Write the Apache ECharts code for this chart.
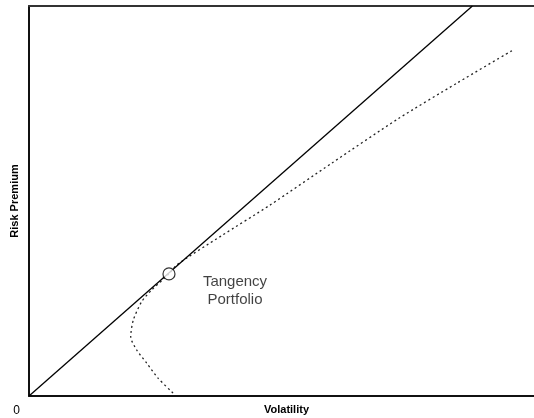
<!DOCTYPE html>
<html>
<head>
<meta charset="utf-8">
<script src="https://cdn.jsdelivr.net/npm/echarts@6/dist/echarts.min.js"></script>
<style>html,body{margin:0;padding:0;background:#fff;}#c{width:534px;height:418px;}</style>
</head>
<body>
<div id="c"></div>
<script>
// Capital market line (solid) from origin
var cmlPoints = [[0, 0], [43.9, 20]];
// Efficient frontier: [volatility, risk premium]
var frontierPoints = [
  [14.26, 0.15], [12.77, 0.92], [11.65, 1.69], [10.66, 2.36], [10.07, 3.04],
  [10.33, 3.90], [11.16, 4.84], [12.15, 5.44], [13.86, 6.26], [14.62, 6.72],
  [19.0, 8.2], [23.86, 9.79], [30.0, 11.95], [36.53, 14.21], [42.38, 16.05], [47.92, 17.74]
];
var tangencyPoint = [[13.86, 6.26]];
var tangencyLabel = 'Tangency\nPortfolio';
var xTitle = 'Volatility';
var yTitle = 'Risk Premium';

var chart = echarts.init(document.getElementById('c'));
chart.setOption({
  backgroundColor: '#fff',
  animation: false,
  grid: { left: 29, right: 0, top: 6, bottom: 22, containLabel: false, outerBoundsMode: 'none' },
  xAxis: [{
    type: 'value', min: 0, max: 50, position: 'bottom',
    name: xTitle, nameLocation: 'middle', nameGap: 8, nameMoveOverlap: false,
    nameTextStyle: { fontFamily: 'Liberation Sans, Arial', fontWeight: 'bold', fontSize: 11, color: '#000', verticalAlign: 'top', padding: [0, 0, 0, 10] },
    axisLine: { show: true, lineStyle: { color: '#111', width: 2 } },
    axisTick: { show: false }, axisLabel: { show: false }, splitLine: { show: false }
  }, {
    type: 'value', min: 0, max: 50, position: 'top',
    axisLine: { show: true, lineStyle: { color: '#333', width: 2 } },
    axisTick: { show: false }, axisLabel: { show: false }, splitLine: { show: false }
  }],
  yAxis: {
    type: 'value', min: 0, max: 20, interval: 20,
    name: yTitle, nameLocation: 'middle', nameGap: 9, nameMoveOverlap: false,
    nameTextStyle: { fontFamily: 'Liberation Sans, Arial', fontWeight: 'bold', fontSize: 11, color: '#000' },
    axisLine: { show: true, lineStyle: { color: '#111', width: 2 } },
    axisTick: { show: false }, splitLine: { show: false },
    axisLabel: {
      show: true, margin: 9, verticalAlign: 'top', padding: [9, 0, 0, 0],
      fontFamily: 'Liberation Sans, Arial', fontSize: 12, color: '#000',
      formatter: function (v) { return v === 0 ? '0' : ''; }
    }
  },
  series: [{
    type: 'line', data: cmlPoints, symbol: 'none',
    lineStyle: { color: '#000', width: 1.3 }, z: 3
  }, {
    type: 'line', data: frontierPoints, symbol: 'none', smooth: 0.25,
    lineStyle: { color: '#222', width: 1.3, type: [2, 3] }, z: 2
  }, {
    type: 'scatter', data: tangencyPoint, symbol: 'circle', symbolSize: 12,
    itemStyle: { color: '#fff', borderColor: '#000', borderWidth: 1.2 }, z: 5,
    label: {
      show: true, position: 'inside', offset: [66, 17], formatter: tangencyLabel,
      fontFamily: 'Liberation Sans, Arial', fontSize: 15, lineHeight: 18, color: '#111', align: 'center'
    }
  }]
});
</script>
</body>
</html>
